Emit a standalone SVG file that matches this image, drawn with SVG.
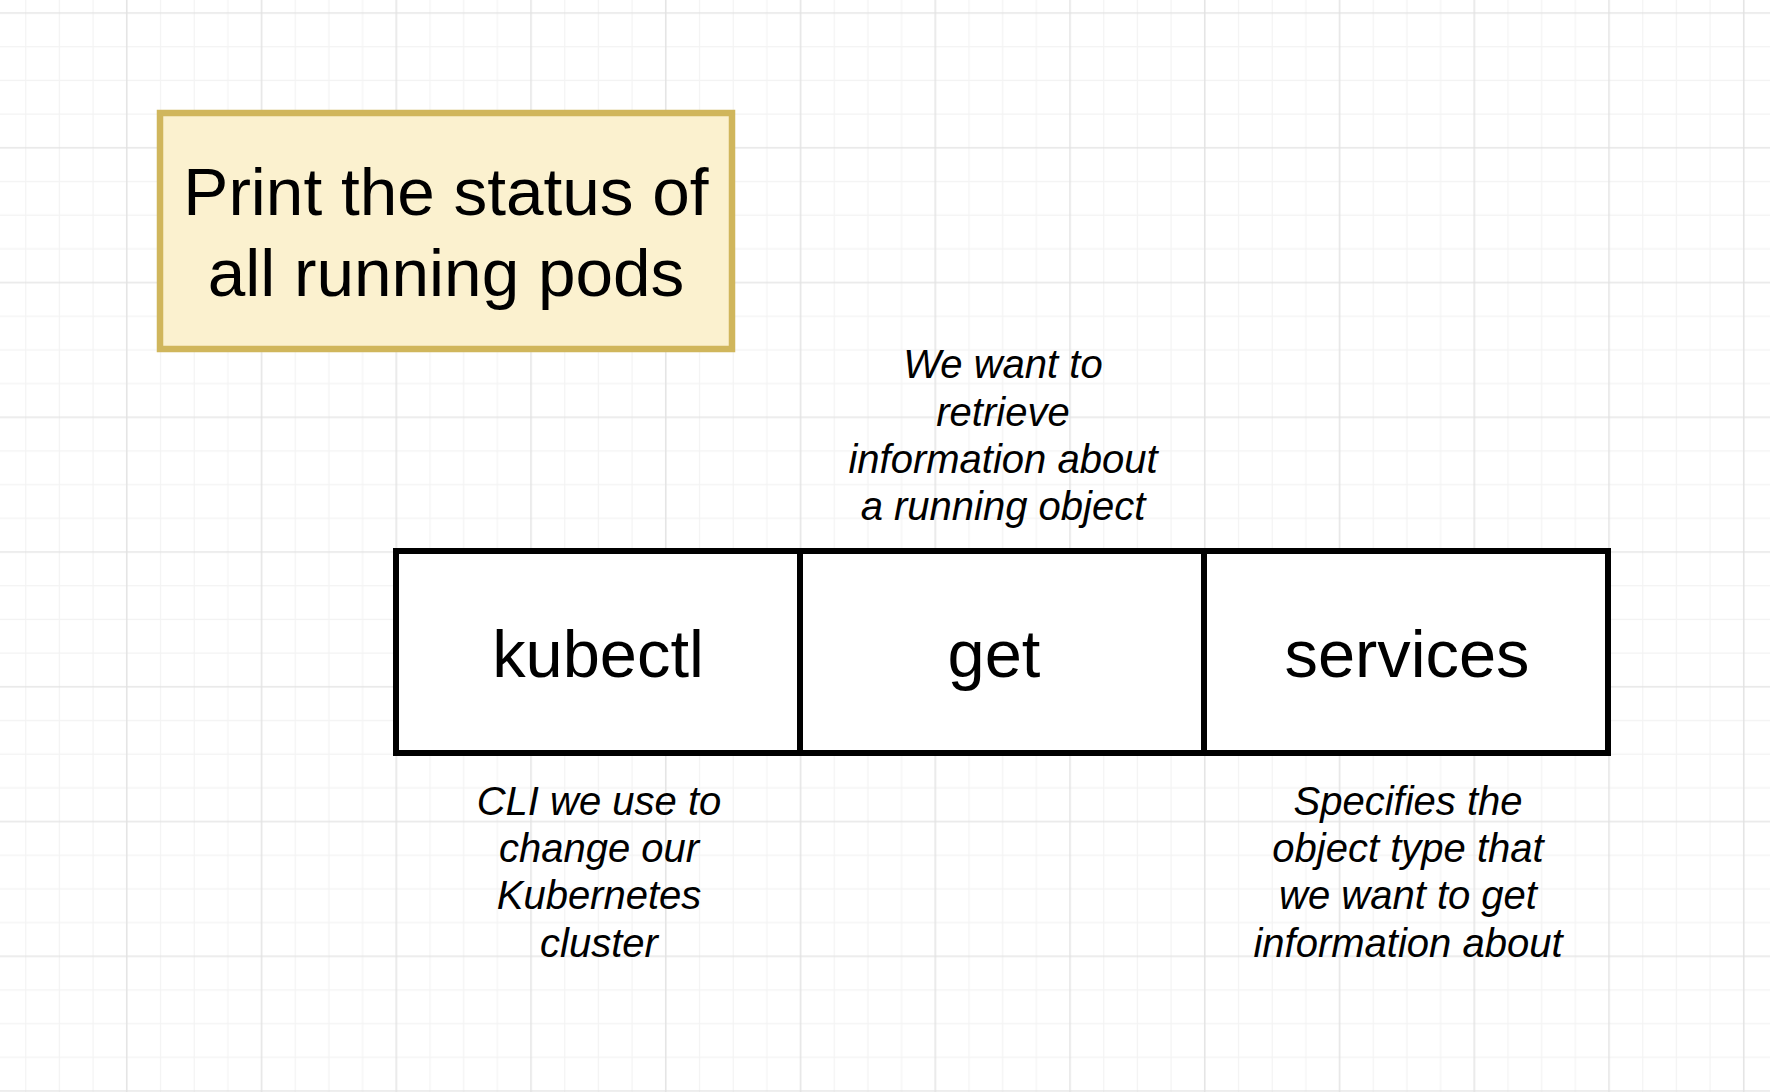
<svg xmlns="http://www.w3.org/2000/svg" width="1770" height="1092" viewBox="0 0 1770 1092">
  <defs>
    <pattern id="grid" patternUnits="userSpaceOnUse" x="110" y="-3.8" width="134.75" height="134.75">
      <path d="M50.49 0V134.75M84.18 0V134.75M117.86 0V134.75M0 50.49H134.75M0 84.18H134.75M0 117.86H134.75" stroke="#f3f3f3" stroke-width="1.2" fill="none"/>
      <path d="M16.8 0V134.75M0 16.8H134.75" stroke="#e2e2e2" stroke-width="1.4" fill="none"/>
    </pattern>
  </defs>
  <style>
    .title { font-family: "Liberation Sans", Arial, Helvetica, sans-serif; font-size: 67.5px; fill: #000; text-anchor: middle; }
    .cmd { font-family: "Liberation Sans", Arial, Helvetica, sans-serif; font-size: 66.8px; fill: #000; text-anchor: middle; }
    .note { font-family: "Liberation Sans", Arial, Helvetica, sans-serif; font-size: 40px; font-style: italic; fill: #000; text-anchor: middle; }
    .cell { fill: #ffffff; stroke: #000000; stroke-width: 6; }
  </style>
  <rect x="0" y="0" width="1770" height="1092" fill="#ffffff"/>
  <rect x="0" y="0" width="1770" height="1092" fill="url(#grid)"/>

  <g id="title">
    <rect x="160" y="113" width="572" height="236" fill="#fbf1cf" stroke="#d0b65c" stroke-width="6.5"/>
    <text class="title" x="446" y="215">Print the status of</text>
    <text class="title" x="446" y="296">all running pods</text>
  </g>

  <g id="kubectl">
    <rect class="cell" x="396" y="551" width="404" height="202"/>
    <text class="cmd" x="598" y="677">kubectl</text>
  </g>
  <g id="get">
    <rect class="cell" x="800" y="551" width="404" height="202"/>
    <text class="cmd" x="994" y="677">get</text>
  </g>
  <g id="services">
    <rect class="cell" x="1204" y="551" width="404" height="202"/>
    <text class="cmd" x="1407" y="677">services</text>
  </g>

  <g id="note-get">
    <text class="note" x="1003" y="378.3">We want to</text>
    <text class="note" x="1003" y="425.5">retrieve</text>
    <text class="note" x="1003" y="472.7">information about</text>
    <text class="note" x="1003" y="519.9">a running object</text>
  </g>
  <g id="note-kubectl">
    <text class="note" x="599" y="815">CLI we use to</text>
    <text class="note" x="599" y="862.2">change our</text>
    <text class="note" x="599" y="909.4">Kubernetes</text>
    <text class="note" x="599" y="956.6">cluster</text>
  </g>
  <g id="note-services">
    <text class="note" x="1408" y="815">Specifies the</text>
    <text class="note" x="1408" y="862.2">object type that</text>
    <text class="note" x="1408" y="909.4">we want to get</text>
    <text class="note" x="1408" y="956.6">information about</text>
  </g>

  <g id="connectors"></g>
</svg>
